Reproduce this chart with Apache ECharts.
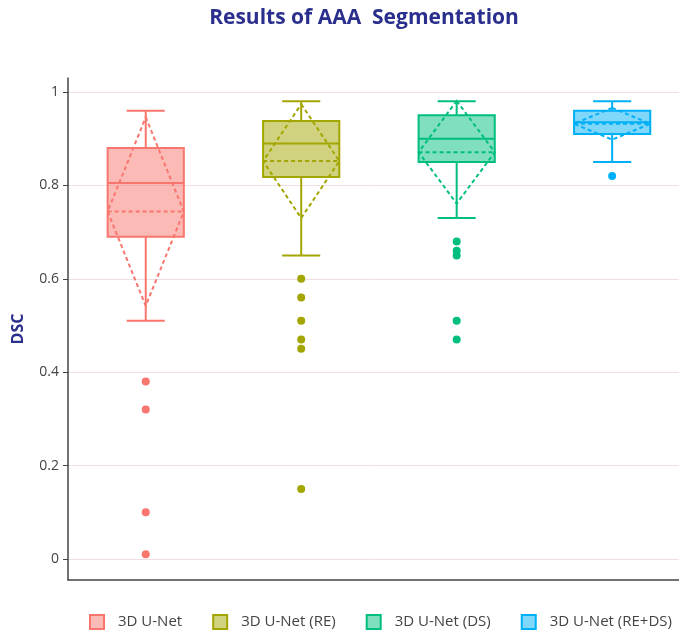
<!DOCTYPE html>
<html>
<head>
<meta charset="utf-8">
<script src="https://cdn.jsdelivr.net/npm/echarts@6/dist/echarts.min.js"></script>
<style>
  html, body { margin: 0; padding: 0; background: #fff; }
  #chart { width: 679px; height: 632px; }
</style>
</head>
<body>
<div id="chart"></div>
<script>
// ----- data -----
var models = ['3D U-Net', '3D U-Net (RE)', '3D U-Net (DS)', '3D U-Net (RE+DS)'];
var colors = ['#F8766D', '#A3A500', '#00BF7D', '#00B0F6'];
// [lower whisker, q1, median, q3, upper whisker]
var boxStats = [
    [0.51, 0.69, 0.805, 0.88, 0.96],
    [0.65, 0.818, 0.89, 0.938, 0.98],
    [0.73, 0.85, 0.90, 0.95, 0.98],
    [0.85, 0.91, 0.935, 0.96, 0.98]
];
var means = [0.744, 0.852, 0.871, 0.932];
var sds = [0.202, 0.122, 0.11, 0.034];
var outliers = [
    [0.38, 0.32, 0.10, 0.01],
    [0.60, 0.56, 0.51, 0.47, 0.45, 0.15],
    [0.68, 0.66, 0.65, 0.51, 0.47],
    [0.82]
];
var yTicks = [0, 0.2, 0.4, 0.6, 0.8, 1];

var dom = document.getElementById('chart');
var myChart = echarts.init(dom);

function renderBox(params, api) {
    var x = api.value(0);
    var idx = api.value(8);
    var col = colors[idx];
    var bw = api.size([1, 0])[0] * 0.49;
    var cx = api.coord([x, 0])[0];
    var half = bw / 2;
    var capHalf = bw / 4;
    function py(v) { return api.coord([x, v])[1]; }
    var yLo = py(api.value(1)), yQ1 = py(api.value(2)), yMed = py(api.value(3));
    var yQ3 = py(api.value(4)), yHi = py(api.value(5));
    var yMean = py(api.value(6));
    var yTop = py(api.value(6) + api.value(7)), yBot = py(api.value(6) - api.value(7));
    var solid = { stroke: col, lineWidth: 2, fill: null };
    var dashed = { stroke: col, lineWidth: 2, fill: null, lineDash: [4, 3] };
    return {
        type: 'group',
        children: [
            { type: 'rect', shape: { x: cx - half, y: yQ3, width: bw, height: yQ1 - yQ3 },
              style: { fill: echarts.color.modifyAlpha(col, 0.5), stroke: col, lineWidth: 2 } },
            { type: 'line', shape: { x1: cx, y1: yQ3, x2: cx, y2: yHi }, style: solid },
            { type: 'line', shape: { x1: cx, y1: yQ1, x2: cx, y2: yLo }, style: solid },
            { type: 'line', shape: { x1: cx - capHalf, y1: yHi, x2: cx + capHalf, y2: yHi }, style: solid },
            { type: 'line', shape: { x1: cx - capHalf, y1: yLo, x2: cx + capHalf, y2: yLo }, style: solid },
            { type: 'line', shape: { x1: cx - half, y1: yMed, x2: cx + half, y2: yMed }, style: solid },
            { type: 'line', shape: { x1: cx - half, y1: yMean, x2: cx + half, y2: yMean }, style: dashed },
            { type: 'polygon', shape: { points: [[cx, yTop], [cx + half, yMean], [cx, yBot], [cx - half, yMean]] },
              style: dashed }
        ]
    };
}

var series = [];
models.forEach(function(name, i) {
    var s = boxStats[i];
    series.push({
        name: name,
        type: 'custom',
        renderItem: renderBox,
        itemStyle: { color: colors[i] },
        encode: { x: 0, y: [1, 2, 3, 4, 5] },
        data: [[i, s[0], s[1], s[2], s[3], s[4], means[i], sds[i], i]],
        z: 2
    });
    series.push({
        name: name,
        type: 'scatter',
        symbolSize: 8,
        itemStyle: { color: colors[i], opacity: 1 },
        data: outliers[i].map(function(v) { return [i, v]; }),
        z: 3
    });
});

var option = {
    backgroundColor: '#fff',
    animation: false,
    title: {
        text: 'Results of AAA  Segmentation',
        left: 359,
        textAlign: 'center',
        top: 3,
        textStyle: {
            fontFamily: 'Open Sans',
            fontSize: 21,
            fontWeight: 'bold',
            color: '#2a2e8c'
        }
    },
    legend: {
        top: 609,
        left: 84,
        itemWidth: 14,
        itemHeight: 14,
        itemGap: 30,
        icon: 'rect',
        textStyle: { fontFamily: 'Open Sans', fontSize: 15, color: '#444', padding: [0, 0, 0, 9] },
        data: models.map(function(name, i) {
            return {
                name: name,
                itemStyle: { color: echarts.color.modifyAlpha(colors[i], 0.5), borderColor: colors[i], borderWidth: 2 }
            };
        })
    },
    grid: {
        left: 68,
        right: 0,
        top: 78,
        bottom: 52
    },
    xAxis: {
        type: 'value',
        min: -0.5,
        max: 3.43,
        axisLine: { onZero: false, lineStyle: { color: '#444', width: 1.5 } },
        axisTick: { show: false },
        axisLabel: { show: false },
        splitLine: { show: false }
    },
    yAxis: {
        type: 'value',
        min: -0.045,
        max: 1.03,
        name: 'DSC',
        nameLocation: 'middle',
        nameGap: 42,
        nameTextStyle: { fontFamily: 'Open Sans', fontSize: 16, fontWeight: 'bold', color: '#2a2e8c' },
        axisLine: { show: true, onZero: false, lineStyle: { color: '#444', width: 1.5 } },
        axisTick: { show: true, length: 5, customValues: yTicks, lineStyle: { color: '#444' } },
        axisLabel: {
            customValues: yTicks,
            fontFamily: 'Open Sans',
            fontSize: 14,
            color: '#444',
            margin: 9
        },
        splitLine: { show: true, lineStyle: { color: '#efdfe2', width: 1 } }
    },
    series: series
};

if (option && typeof option === 'object') {
    myChart.setOption(option);
}
window.onresize = function() {
    myChart.resize();
};
</script>
</body>
</html>
